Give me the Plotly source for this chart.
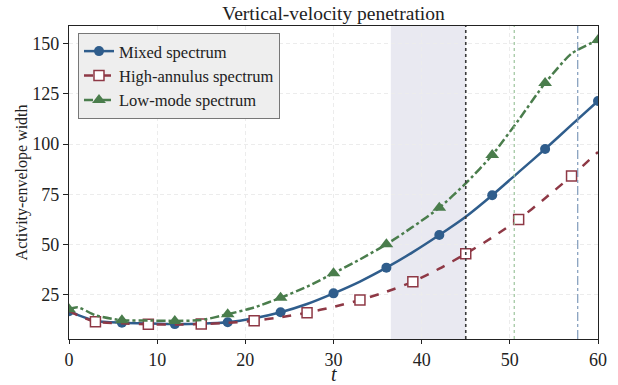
import plotly.graph_objects as go

# ---- data ----
t_line = [0, 1, 3, 6, 9, 12, 15, 18, 21, 24, 27, 30, 33, 36, 39, 42, 45, 48, 51, 54, 57, 60]
mixed = [16.8, 15.0, 12.0, 11.1, 10.7, 10.4, 10.6, 11.3, 13.3, 16.3, 20.4, 25.7, 31.6, 38.5, 46.2, 54.7, 63.8, 74.5, 86.0, 97.5, 109.5, 121.4]
high = [17.0, 14.8, 11.6, 10.8, 10.3, 10.2, 10.4, 11.0, 12.1, 13.8, 16.1, 19.0, 22.4, 26.5, 31.5, 38.0, 45.4, 53.5, 62.5, 73.0, 84.1, 96.0]
low = [17.8, 18.8, 14.8, 12.3, 12.2, 12.0, 12.4, 15.3, 18.7, 23.5, 29.0, 35.7, 42.6, 50.1, 58.8, 68.3, 80.4, 94.5, 112.0, 130.3, 145.0, 151.7]

mixed_mk_t = [0, 6, 12, 18, 24, 30, 36, 42, 48, 54, 60]
high_mk_t = [3, 9, 15, 21, 27, 33, 39, 45, 51, 57]
low_mk_t = [0, 6, 12, 18, 24, 30, 36, 42, 48, 54, 60]

shade_span = [36.5, 45.0]
vlines = [45.0, 50.5, 57.7]

names = ["Mixed spectrum", "High-annulus spectrum", "Low-mode spectrum"]
colors = ["#2f5d8c", "#8e3845", "#4a7d4c"]
dashes = ["solid", "dash", "dashdot"]

FONT = "Liberation Serif"


def pick(ts, ys, sel):
    return [ys[ts.index(s)] for s in sel]


fig = go.Figure()

series = [
    (mixed, mixed_mk_t, dict(symbol="circle", size=10, color=colors[0], line=dict(width=0))),
    (high, high_mk_t, dict(symbol="square", size=10, color="white", line=dict(width=1.5, color=colors[1]))),
    (low, low_mk_t, dict(symbol="triangle-up", size=12, color=colors[2], line=dict(width=0))),
]

for i, (ys, mkt, mk) in enumerate(series):
    fig.add_trace(go.Scatter(
        x=t_line, y=ys, mode="lines", line=dict(color=colors[i], width=2.5, dash=dashes[i], shape="spline", smoothing=0.6),
        showlegend=False, hoverinfo="skip", legendgroup=names[i]))
    fig.add_trace(go.Scatter(
        x=mkt, y=pick(t_line, ys, mkt), mode="markers", marker=mk,
        showlegend=False, legendgroup=names[i]))
    fig.add_trace(go.Scatter(
        x=[None], y=[None], mode="lines+markers", name=names[i],
        line=dict(color=colors[i], width=2.5, dash=dashes[i]), marker=mk, legendgroup=names[i]))

fig.add_vrect(x0=shade_span[0], x1=shade_span[1], fillcolor="#e9e9f1", line_width=0, layer="below")
fig.add_vline(x=vlines[0], line=dict(color="#3a3a3a", width=1.6, dash="dot"))
fig.add_vline(x=vlines[1], line=dict(color="#9cc49c", width=1.2, dash="dot"))
fig.add_vline(x=vlines[2], line=dict(color="#7f9abb", width=1.2, dash="dashdot"))

axis_common = dict(
    showline=True, linecolor="#222", linewidth=1.2, mirror=True,
    ticks="outside", tickcolor="#222",
    showgrid=True, gridcolor="#ececec", griddash="4px,3px", gridwidth=0.8,
    zeroline=False, tickfont=dict(family=FONT, size=18, color="#222"),
    automargin=False,
)

fig.update_xaxes(range=[0, 60], tickvals=[0, 10, 20, 30, 40, 50, 60], ticklen=4, **axis_common)
fig.update_yaxes(range=[3, 158.7], tickvals=[25, 50, 75, 100, 125, 150], ticklen=5, **axis_common)

fig.add_annotation(text="<i>t</i>", x=0.5, y=-0.113, xref="paper", yref="paper",
                   xanchor="center", yanchor="middle", showarrow=False,
                   font=dict(family=FONT, size=20, color="#222"))
fig.add_annotation(text="Activity-envelope width", x=-0.089, y=0.5, xref="paper", yref="paper",
                   xanchor="center", yanchor="middle", textangle=-90, showarrow=False,
                   font=dict(family=FONT, size=16, color="#222"))

fig.update_layout(
    width=618, height=385,
    margin=dict(l=69, r=20, t=26, b=46, autoexpand=False),
    paper_bgcolor="white", plot_bgcolor="white",
    title=dict(text="Vertical-velocity penetration", x=0.5, xanchor="center", xref="paper",
               yref="container", y=0.966, yanchor="middle", font=dict(family=FONT, size=19.5, color="#222")),
    legend=dict(x=0.017, y=0.978, xanchor="left", yanchor="top",
                bgcolor="#eeeeee", bordercolor="#777", borderwidth=1,
                font=dict(family=FONT, size=16.5, color="#222"), tracegroupgap=0),
    showlegend=True,
)

fig.write_html("out.html", config={"displayModeBar": False},
               post_script="document.body.style.margin='0';document.body.style.overflow='hidden';")
